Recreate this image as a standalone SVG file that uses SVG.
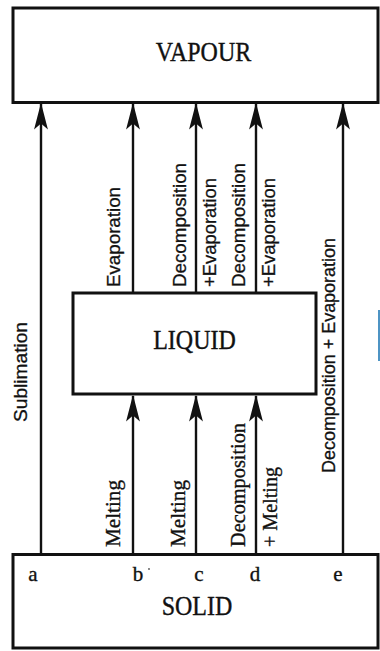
<svg xmlns="http://www.w3.org/2000/svg" width="380" height="651" viewBox="0 0 380 651">
<style>
.box{fill:#fff;stroke:#111;stroke-width:3}
.ln{fill:none;stroke:#111;stroke-width:2.4}
.serif{font-family:"Liberation Serif","Times New Roman",serif;fill:#111;stroke:#111;stroke-width:0.35}
.sans{font-family:"Liberation Sans",Arial,sans-serif;fill:#111;font-size:18.5px;stroke:#111;stroke-width:0.3}
.lbl{font-size:20.5px}
.big{font-size:24px;text-anchor:middle}
.let{font-size:21px;text-anchor:middle}
</style>
<defs>
<marker id="ah" markerUnits="userSpaceOnUse" markerWidth="30" markerHeight="20" viewBox="-24 -8 26 16" refX="0" refY="0" orient="auto">
<path d="M1,0 L-22,-6 L-17,0 L-22,6 Z" fill="#111"/>
</marker>
</defs>
<rect width="380" height="651" fill="#fff"/>
<g id="vapour">
<rect class="box" x="13" y="8" width="365" height="94.5"/>
<text class="serif big" transform="translate(203.5,61) scale(1,1.12)">VAPOUR</text>
</g>
<g id="liquid">
<rect class="box" x="73" y="293" width="243" height="101"/>
<text class="serif big" transform="translate(194.5,349) scale(1,1.1)">LIQUID</text>
</g>
<g id="solid">
<rect class="box" x="13" y="554.5" width="365" height="93.5"/>
<text class="serif big" transform="translate(197,615) scale(1,1.1)">SOLID</text>
<text class="serif let" x="33" y="581">a</text>
<text class="serif let" x="138" y="581">b</text>
<circle cx="149" cy="569" r="0.9" fill="#555"/>
<text class="serif let" x="199" y="581">c</text>
<text class="serif let" x="255" y="581">d</text>
<text class="serif let" x="338" y="581">e</text>
</g>
<g id="connectors">
<line class="ln" x1="41" y1="553" x2="41" y2="104" marker-end="url(#ah)"/>
<line class="ln" x1="133" y1="292" x2="133" y2="104" marker-end="url(#ah)"/>
<line class="ln" x1="196" y1="292" x2="196" y2="104" marker-end="url(#ah)"/>
<line class="ln" x1="256" y1="292" x2="256" y2="104" marker-end="url(#ah)"/>
<line class="ln" x1="343" y1="553" x2="343" y2="104" marker-end="url(#ah)"/>
<line class="ln" x1="133" y1="553" x2="133" y2="396" marker-end="url(#ah)"/>
<line class="ln" x1="196" y1="553" x2="196" y2="396" marker-end="url(#ah)"/>
<line class="ln" x1="256" y1="553" x2="256" y2="396" marker-end="url(#ah)"/>
</g>
<g id="labels">
<text class="sans" transform="translate(27,422) rotate(-90)" textLength="100" lengthAdjust="spacingAndGlyphs">Sublimation</text>
<text class="sans" transform="translate(120,287) rotate(-90)" textLength="100" lengthAdjust="spacingAndGlyphs">Evaporation</text>
<text class="sans" transform="translate(186,287) rotate(-90)" textLength="124" lengthAdjust="spacingAndGlyphs">Decomposition</text>
<text class="sans" transform="translate(216,287) rotate(-90)" textLength="109" lengthAdjust="spacingAndGlyphs">+Evaporation</text>
<text class="sans" transform="translate(245,287) rotate(-90)" textLength="124" lengthAdjust="spacingAndGlyphs">Decomposition</text>
<text class="sans" transform="translate(275,287) rotate(-90)" textLength="109" lengthAdjust="spacingAndGlyphs">+Evaporation</text>
<text class="sans" transform="translate(335,473) rotate(-90)" textLength="235" lengthAdjust="spacingAndGlyphs">Decomposition + Evaporation</text>
<text class="serif lbl" transform="translate(120,547) rotate(-90)" textLength="67" lengthAdjust="spacingAndGlyphs">Melting</text>
<text class="serif lbl" transform="translate(185,547) rotate(-90)" textLength="67" lengthAdjust="spacingAndGlyphs">Melting</text>
<text class="serif lbl" transform="translate(245,547) rotate(-90)" textLength="124" lengthAdjust="spacingAndGlyphs">Decomposition</text>
<text class="serif lbl" transform="translate(277,547) rotate(-90)" textLength="80" lengthAdjust="spacingAndGlyphs">+ Melting</text>
</g>
<rect x="378" y="310" width="2" height="51" fill="#4d94c4"/>
</svg>
